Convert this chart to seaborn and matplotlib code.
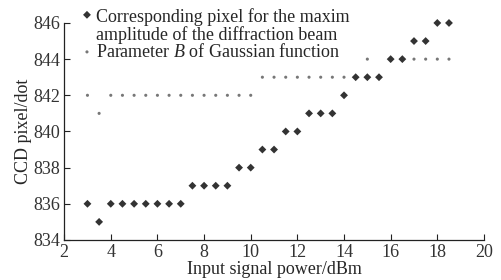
import seaborn as sns
import matplotlib.pyplot as plt
import numpy as np
import pandas as pd
from matplotlib.legend_handler import HandlerPathCollection

# CCD pixel vs input signal power

power = [3, 3.5, 4, 4.5, 5, 5.5, 6, 6.5, 7, 7.5, 8, 8.5, 9, 9.5, 10, 10.5,
         11, 11.5, 12, 12.5, 13, 13.5, 14, 14.5, 15, 15.5, 16, 16.5, 17, 17.5, 18, 18.5]
max_pixel = [836, 835, 836, 836, 836, 836, 836, 836, 836, 837, 837, 837, 837, 838, 838, 839,
             839, 840, 840, 841, 841, 841, 842, 843, 843, 843, 844, 844, 845, 845, 846, 846]
param_b = [842, 841, 842, 842, 842, 842, 842, 842, 842, 842, 842, 842, 842, 842, 842, 843,
           843, 843, 843, 843, 843, 843, 843, 843, 844, 843, 844, 844, 844, 844, 844, 844]

label_pix = "Corresponding pixel for the maxim\namplitude of the diffraction beam"
label_b = "Parameter $B$ of Gaussian function"

sns.set_theme("paper", style="ticks")
plt.rcParams["font.family"] = ["Liberation Serif", "DejaVu Serif"]
plt.rcParams["mathtext.fontset"] = "custom"
plt.rcParams["mathtext.it"] = "Liberation Serif:italic"
plt.rcParams["mathtext.rm"] = "Liberation Serif"

df = pd.DataFrame({"power": power, "pix": max_pixel, "b": param_b})

fig = plt.figure(figsize=(5.01, 2.8), dpi=100)
ax = fig.add_axes([0.128, 0.143, 0.838, 0.775])

sns.scatterplot(data=df, x="power", y="b", ax=ax, marker="o", s=5,
                color="#777777", edgecolor="none", label=label_b, zorder=2,
                clip_on=False)
sns.scatterplot(data=df, x="power", y="pix", ax=ax, marker="D", s=16,
                color="#333333", edgecolor="none", label=label_pix, zorder=3,
                clip_on=False)

ax.set(xlim=(2, 20), ylim=(834, 846),
       xlabel="Input signal power/dBm", ylabel="CCD pixel/dot")
ax.set_xticks(np.arange(2, 21, 2))
ax.set_yticks(np.arange(834, 847, 2))
ax.tick_params(direction="in", labelsize=13, length=4, width=0.8, colors="#222222",
               labelcolor="#333333", pad=3)
ax.xaxis.label.set_size(13)
ax.yaxis.label.set_size(13)
ax.xaxis.labelpad = 0
ax.yaxis.labelpad = 1
for s in ["top", "right"]:
    ax.spines[s].set_visible(False)
for s in ["left", "bottom"]:
    ax.spines[s].set_linewidth(0.9)
    ax.spines[s].set_color("#222222")

h, l = ax.get_legend_handles_labels()
leg = ax.legend(h[::-1], l[::-1], loc="upper left", bbox_to_anchor=(0.02, 1.1),
                frameon=False, fontsize=13, handletextpad=0.1, labelspacing=-0.05,
                borderaxespad=0, handlelength=0.8, markerscale=1,
                handler_map={h[1]: HandlerPathCollection(yoffsets=[1.4])})
for t in leg.get_texts():
    t.set_linespacing(0.95)

fig.savefig("out.png", dpi=100)
